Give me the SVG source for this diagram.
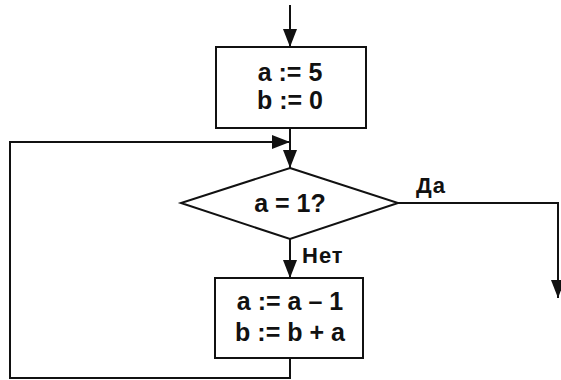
<svg xmlns="http://www.w3.org/2000/svg" width="561" height="380" viewBox="0 0 561 380">
<style>
.s{fill:none;stroke:#111;stroke-width:2}
.n{fill:#fff;stroke:#111;stroke-width:2}
.t{font-family:"Liberation Sans",Arial,sans-serif;font-weight:bold;font-size:25px;fill:#111;text-anchor:middle}
.l{font-family:"Liberation Sans",Arial,sans-serif;font-weight:bold;font-size:22px;letter-spacing:1px;fill:#111}
</style>
<defs>
<marker id="ah" markerWidth="18" markerHeight="14" refX="18" refY="7" viewBox="0 0 18 14" orient="auto" markerUnits="userSpaceOnUse">
<path d="M0,0 L18,7 L0,14 Z" fill="#111"/>
</marker>
</defs>
<g id="connectors">
<line class="s" x1="290" y1="5" x2="290" y2="47" marker-end="url(#ah)"/>
<line class="s" x1="290" y1="128" x2="290" y2="168" marker-end="url(#ah)"/>
<polyline class="s" points="290,358 290,378 10,378 10,142 290,142" marker-end="url(#ah)"/>
<line class="s" x1="290" y1="239" x2="290" y2="278" marker-end="url(#ah)"/>
<polyline class="s" points="398,203 558,203 558,298" marker-end="url(#ah)"/>
<text class="l" x="416" y="193">Да</text>
<text class="l" x="302" y="263">Нет</text>
</g>
<g id="init">
<rect class="n" x="216" y="47" width="150" height="81"/>
<text class="t" x="290" y="81">a := 5</text>
<text class="t" x="290" y="109">b := 0</text>
</g>
<g id="cond">
<polygon class="n" points="290,168 398,203 290,239 181,203"/>
<text class="t" x="290" y="212">a = 1?</text>
</g>
<g id="body">
<rect class="n" x="215" y="278" width="148" height="80"/>
<text class="t" x="290" y="310">a := a – 1</text>
<text class="t" x="290" y="341">b := b + a</text>
</g>
</svg>
